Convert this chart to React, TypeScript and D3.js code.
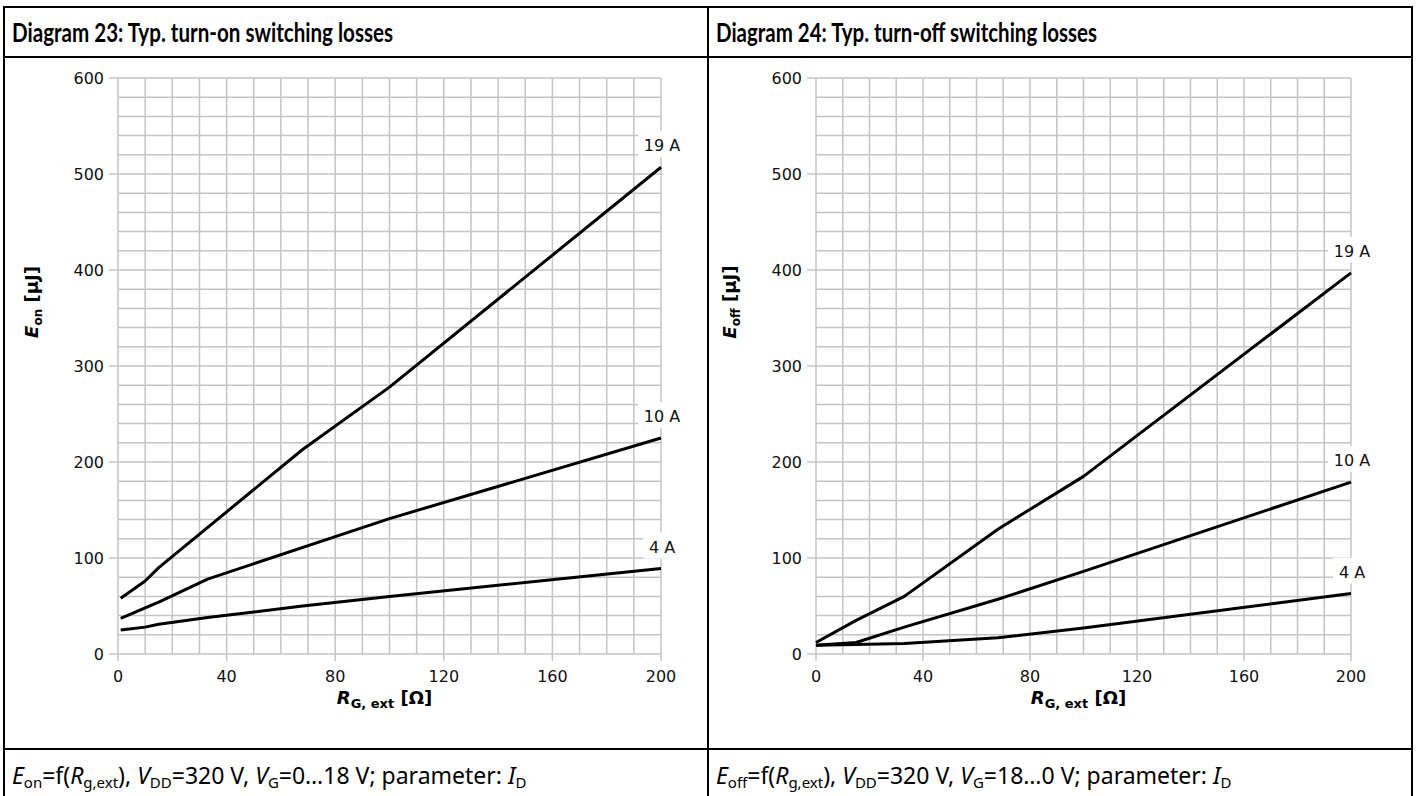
import * as d3 from 'd3'

// gate resistance (Ω) sample points
const rOn19 = [1, 10, 15, 68, 100, 200]
const eOn19 = [58, 76, 90, 213, 278, 507]
const rOn10 = [1, 10, 15, 33, 100, 200]
const eOn10 = [37, 48, 54, 78, 141, 225]
const rOn4 = [1, 10, 15, 33, 68, 100, 200]
const eOn4 = [25, 28, 31, 38, 50, 60, 89]

const rOff19 = [0, 15, 33, 68, 100, 200]
const eOff19 = [12, 35, 60, 130, 185, 397]
const rOff10 = [0, 15, 33, 68, 100, 200]
const eOff10 = [9, 12, 28, 57, 86, 179]
const rOff4 = [0, 15, 33, 68, 100, 200]
const eOff4 = [9, 10, 11, 17, 27, 63]

const currents = ['19 A', '10 A', '4 A']
const xTicks = [0, 40, 80, 120, 160, 200]
const yTicks = [0, 100, 200, 300, 400, 500, 600]
const xGrid = d3.range(0, 201, 10)
const yGrid = d3.range(0, 601, 20)

type Series = { label: string; r: number[]; e: number[] }

const onSeries: Series[] = [
  { label: currents[0], r: rOn19, e: eOn19 },
  { label: currents[1], r: rOn10, e: eOn10 },
  { label: currents[2], r: rOn4, e: eOn4 },
]
const offSeries: Series[] = [
  { label: currents[0], r: rOff19, e: eOff19 },
  { label: currents[1], r: rOff10, e: eOff10 },
  { label: currents[2], r: rOff4, e: eOff4 },
]

const W = 1417
const H = 796
const tickStyle = { fontFamily: "'DejaVu Sans'" }
const titleStyle = { fontFamily: "'Lato'" }
const footStyle = { fontFamily: "'Noto Sans'" }

function Plot({ x0, x1, series, sub }: { x0: number; x1: number; series: Series[]; sub: string }) {
  const top = 78
  const bottom = 654
  const x = d3.scaleLinear().domain([0, 200]).range([x0, x1])
  const y = d3.scaleLinear().domain([0, 600]).range([bottom, top])
  const line = d3
    .line<[number, number]>()
    .x((d) => x(d[0]))
    .y((d) => y(d[1]))
  const grid = '#c4c4c4'
  const labelX = (x0 + x1) / 2

  return (
    <g>
      {yGrid.map((v) => (
        <line key={'h' + v} x1={x0} x2={x1} y1={y(v)} y2={y(v)} stroke={grid} strokeWidth={1.5} />
      ))}
      {xGrid.map((v) => (
        <line key={'v' + v} x1={x(v)} x2={x(v)} y1={top} y2={bottom} stroke={grid} strokeWidth={1.5} />
      ))}
      {yTicks.map((v) => (
        <g key={'yt' + v}>
          <line x1={x0 - 9} x2={x0} y1={y(v)} y2={y(v)} stroke={grid} strokeWidth={1.5} />
          <text x={x0 - 14} y={y(v) + 6} textAnchor="end" style={tickStyle} fontSize={16} fill="#111">
            {v}
          </text>
        </g>
      ))}
      {xTicks.map((v) => (
        <g key={'xt' + v}>
          <line x1={x(v)} x2={x(v)} y1={bottom} y2={bottom + 7} stroke={grid} strokeWidth={1.5} />
          <text x={x(v)} y={bottom + 28} textAnchor="middle" style={tickStyle} fontSize={16} fill="#111">
            {v}
          </text>
        </g>
      ))}

      {series.map((s) => {
        const pts = s.r.map((r, i) => [r, s.e[i]] as [number, number])
        const end = pts[pts.length - 1]
        const lx = x(end[0])
        const ly = y(end[1]) - 22
        const w = s.label.length * 10 + 6
        return (
          <g key={s.label}>
            <path d={line(pts) ?? ''} fill="none" stroke="#000" strokeWidth={3} strokeLinejoin="round" />
            <rect x={lx - w / 2} y={ly - 14} width={w} height={26} fill="#fff" />
            <text x={lx + 1} y={ly + 6} textAnchor="middle" style={tickStyle} fontSize={16} fill="#111">
              {s.label}
            </text>
          </g>
        )
      })}

      <text
        transform={`translate(${x0 - 80}, 302) rotate(-90)`}
        textAnchor="middle"
        style={tickStyle}
        fontWeight="bold"
        fontSize={18}
        fill="#000"
      >
        <tspan fontStyle="italic">E</tspan>
        <tspan fontSize={12} dy={4}>{sub}</tspan>
        <tspan dy={-4}> [µJ]</tspan>
      </text>
      <text x={labelX - 5} y={bottom + 50} textAnchor="middle" style={tickStyle} fontWeight="bold" fontSize={18} fill="#000">
        <tspan fontStyle="italic">R</tspan>
        <tspan fontSize={13} dy={4}>G, ext</tspan>
        <tspan dy={-4}> [Ω]</tspan>
      </text>
    </g>
  )
}

function Footer({ x0, sub, range }: { x0: number; sub: string; range: string }) {
  const s = 15
  return (
    <text x={x0} y={784} style={footStyle} fontSize={23} fill="#000">
      <tspan fontStyle="italic">E</tspan>
      <tspan fontSize={s} dy={4}>{sub}</tspan>
      <tspan dy={-4}>=f(</tspan>
      <tspan fontStyle="italic">R</tspan>
      <tspan fontSize={s} dy={4}>g,ext</tspan>
      <tspan dy={-4}>), </tspan>
      <tspan fontStyle="italic">V</tspan>
      <tspan fontSize={s} dy={4}>DD</tspan>
      <tspan dy={-4}>=320 V, </tspan>
      <tspan fontStyle="italic">V</tspan>
      <tspan fontSize={s} dy={4}>G</tspan>
      <tspan dy={-4}>={range} V; parameter: </tspan>
      <tspan fontStyle="italic">I</tspan>
      <tspan fontSize={s} dy={4}>D</tspan>
    </text>
  )
}

export default function App() {
  return (
    <svg width={W} height={H} style={{ position: 'absolute', left: 0, top: 0, background: '#fff' }}>
      <rect x={0} y={0} width={W} height={H} fill="#fff" />
      <rect x={4} y={7} width={1408} height={800} fill="none" stroke="#000" strokeWidth={2} />
      <line x1={4} x2={1412} y1={57} y2={57} stroke="#000" strokeWidth={2} />
      <line x1={4} x2={1412} y1={749} y2={749} stroke="#000" strokeWidth={2} />
      <line x1={708} x2={708} y1={7} y2={800} stroke="#000" strokeWidth={2} />

      <text x={12} y={42} style={titleStyle} fontWeight={700} fontSize={26} textLength={381} lengthAdjust="spacingAndGlyphs" fill="#000">
        Diagram 23: Typ. turn-on switching losses
      </text>
      <text x={716} y={42} style={titleStyle} fontWeight={700} fontSize={26} textLength={381} lengthAdjust="spacingAndGlyphs" fill="#000">
        Diagram 24: Typ. turn-off switching losses
      </text>

      <Plot x0={118} x1={661} series={onSeries} sub="on" />
      <Plot x0={816} x1={1351} series={offSeries} sub="off" />

      <Footer x0={12} sub="on" range="0…18" />
      <Footer x0={716} sub="off" range="18…0" />
    </svg>
  )
}
